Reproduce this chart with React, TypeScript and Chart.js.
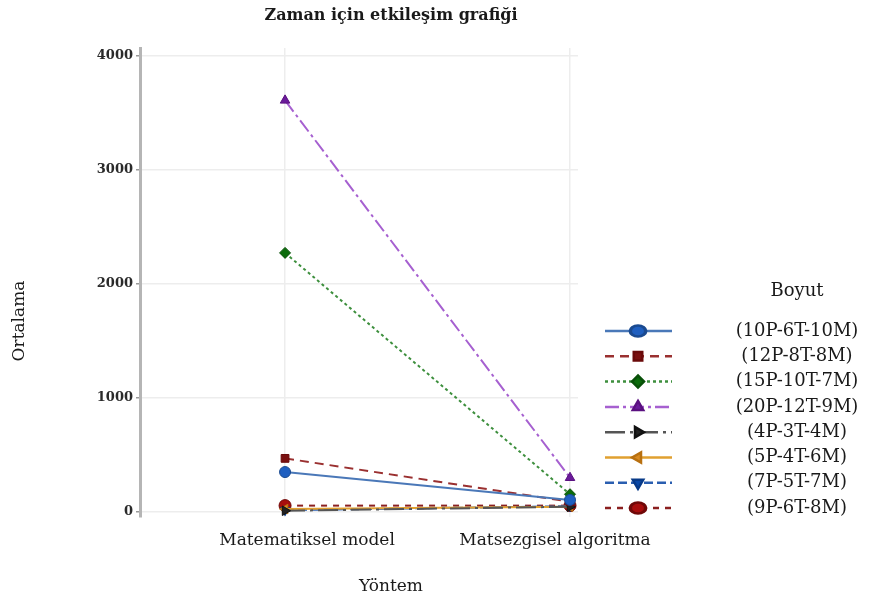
import { useEffect, useRef } from "react";
import { Chart, registerables } from "chart.js";
import { drawPoint } from "chart.js/helpers";

Chart.register(...registerables);

const chartTitle = "Zaman için etkileşim grafiği";
const xTitle = "Yöntem";
const yTitle = "Ortalama";
const legendTitle = "Boyut";
const categories = ["Matematiksel model", "Matsezgisel algoritma"];
const yTicks = [0, 1000, 2000, 3000, 4000];

const seriesNames = [
  "(10P-6T-10M)",
  "(12P-8T-8M)",
  "(15P-10T-7M)",
  "(20P-12T-9M)",
  "(4P-3T-4M)",
  "(5P-4T-6M)",
  "(7P-5T-7M)",
  "(9P-6T-8M)",
];
const s10P6T10M = [345, 100];
const s12P8T8M = [465, 85];
const s15P10T7M = [2270, 150];
const s20P12T9M = [3610, 295];
const s4P3T4M = [5, 40];
const s5P4T6M = [20, 40];
const s7P5T7M = [10, 45];
const s9P6T8M = [50, 50];
const seriesValues = [s10P6T10M, s12P8T8M, s15P10T7M, s20P12T9M, s4P3T4M, s5P4T6M, s7P5T7M, s9P6T8M];

const styles = [
  { line: "#4a78b8", fill: "#1f5fc0", border: "#1a4a90", dash: [], point: "circle", rot: 0, r: 5.5, ellipse: true },
  { line: "#9a3030", fill: "#7a1010", border: "#6a0a0a", dash: [9, 6], point: "rect", rot: 0, r: 5.5, ellipse: false },
  { line: "#3d8f3d", fill: "#0b6b0b", border: "#085008", dash: [3, 3], point: "rectRot", rot: 0, r: 5.5, ellipse: false },
  { line: "#a660d0", fill: "#6a1a9a", border: "#5a1080", dash: [14, 4, 3, 4], point: "triangle", rot: 0, r: 5.5, ellipse: false },
  { line: "#555555", fill: "#222222", border: "#111111", dash: [20, 5, 3, 5], point: "triangle", rot: 90, r: 5.5, ellipse: false },
  { line: "#e0a030", fill: "#d88a20", border: "#b87010", dash: [], point: "triangle", rot: -90, r: 5.5, ellipse: false },
  { line: "#2a5eb0", fill: "#0a48a8", border: "#083a88", dash: [9, 4], point: "triangle", rot: 180, r: 5.5, ellipse: false },
  { line: "#8b2020", fill: "#a80d0d", border: "#700808", dash: [6, 6], point: "circle", rot: 0, r: 6, ellipse: true },
];

const labelShift = [22, -15];
const FONT = '"DejaVu Serif", serif';

const overlay = {
  id: "overlay",
  afterDraw(chart: any) {
    const ctx = chart.ctx as CanvasRenderingContext2D;
    const xs = chart.scales.x;
    ctx.save();
    ctx.fillStyle = "#1a1a1a";
    ctx.textAlign = "center";
    ctx.textBaseline = "middle";
    ctx.font = `bold 16px ${FONT}`;
    ctx.fillText(chartTitle, 391, 16);
    ctx.font = `17px ${FONT}`;
    categories.forEach((c, i) => {
      ctx.fillText(c, xs.getPixelForValue(i) + labelShift[i], 541);
    });
    ctx.fillText(xTitle, 391, 587);
    ctx.save();
    ctx.translate(20, 321);
    ctx.rotate(-Math.PI / 2);
    ctx.fillText(yTitle, 0, 0);
    ctx.restore();

    // legend
    ctx.font = `18px ${FONT}`;
    ctx.fillText(legendTitle, 797, 291);
    seriesNames.forEach((name, i) => {
      const st = styles[i];
      const y = 331 + i * 25.3;
      ctx.save();
      ctx.strokeStyle = st.line;
      ctx.lineWidth = 2.5;
      ctx.setLineDash(st.dash);
      ctx.beginPath();
      ctx.moveTo(605, y);
      ctx.lineTo(672, y);
      ctx.stroke();
      ctx.setLineDash([]);
      ctx.fillStyle = st.fill;
      ctx.strokeStyle = st.border;
      if (st.ellipse) {
        ctx.translate(638, y);
        ctx.scale(1.4, 1);
        drawPoint(ctx, { pointStyle: st.point, rotation: st.rot, radius: 5.5, borderWidth: 1 } as any, 0, 0);
      } else {
        drawPoint(ctx, { pointStyle: st.point, rotation: st.rot, radius: 6, borderWidth: 1 } as any, 638, y);
      }
      ctx.restore();
      ctx.fillStyle = "#1a1a1a";
      ctx.font = `18px ${FONT}`;
      ctx.textAlign = "center";
      ctx.fillText(name, 797, y);
    });
    ctx.restore();
  },
};

export default function App() {
  const ref = useRef<HTMLCanvasElement | null>(null);
  useEffect(() => {
    document.body.style.margin = "0";
    if (!ref.current) return;
    const chart = new Chart(ref.current, {
      type: "line",
      data: {
        datasets: seriesNames.map((name, i) => ({
          label: name,
          data: seriesValues[i].map((v, j) => ({ x: j, y: v })),
          borderColor: styles[i].line,
          borderWidth: 2,
          borderDash: styles[i].dash,
          pointStyle: styles[i].point as any,
          rotation: styles[i].rot,
          pointRadius: styles[i].r,
          pointBackgroundColor: styles[i].fill,
          pointBorderColor: styles[i].border,
          pointBorderWidth: 1,
          fill: false,
          tension: 0,
        })),
      },
      options: {
        animation: false,
        responsive: false,
        layout: { padding: { top: 48, bottom: 91, right: 298, left: 0 } },
        plugins: {
          legend: { display: false },
          title: { display: false },
          tooltip: { enabled: false },
        },
        scales: {
          x: {
            type: "linear",
            min: -0.509,
            max: 1.028,
            afterBuildTicks: (s: any) => {
              s.ticks = categories.map((_, i) => ({ value: i }));
            },
            ticks: { display: false },
            grid: { color: "#ededed", lineWidth: 1.5, drawTicks: false },
            border: { display: false },
            afterFit: (s: any) => {
              s.height = 0;
            },
          },
          y: {
            type: "linear",
            min: -50,
            max: 4070,
            afterBuildTicks: (s: any) => {
              s.ticks = yTicks.map((v) => ({ value: v }));
            },
            ticks: {
              font: { family: "DejaVu Serif", size: 13, weight: "bold" },
              color: "#2a2a2a",
              padding: 3,
              callback: (v: any) => String(v),
            },
            grid: { color: "#ededed", lineWidth: 1.5, tickLength: 4, tickColor: "#999999" },
            border: { color: "#b5b5b5", width: 3 },
            afterFit: (s: any) => {
              s.width = 140;
            },
          },
        },
      },
      plugins: [overlay],
    });
    return () => chart.destroy();
  }, []);
  return (
    <div style={{ width: 876, height: 608 }}>
      <canvas ref={ref} width={876} height={608} />
    </div>
  );
}
